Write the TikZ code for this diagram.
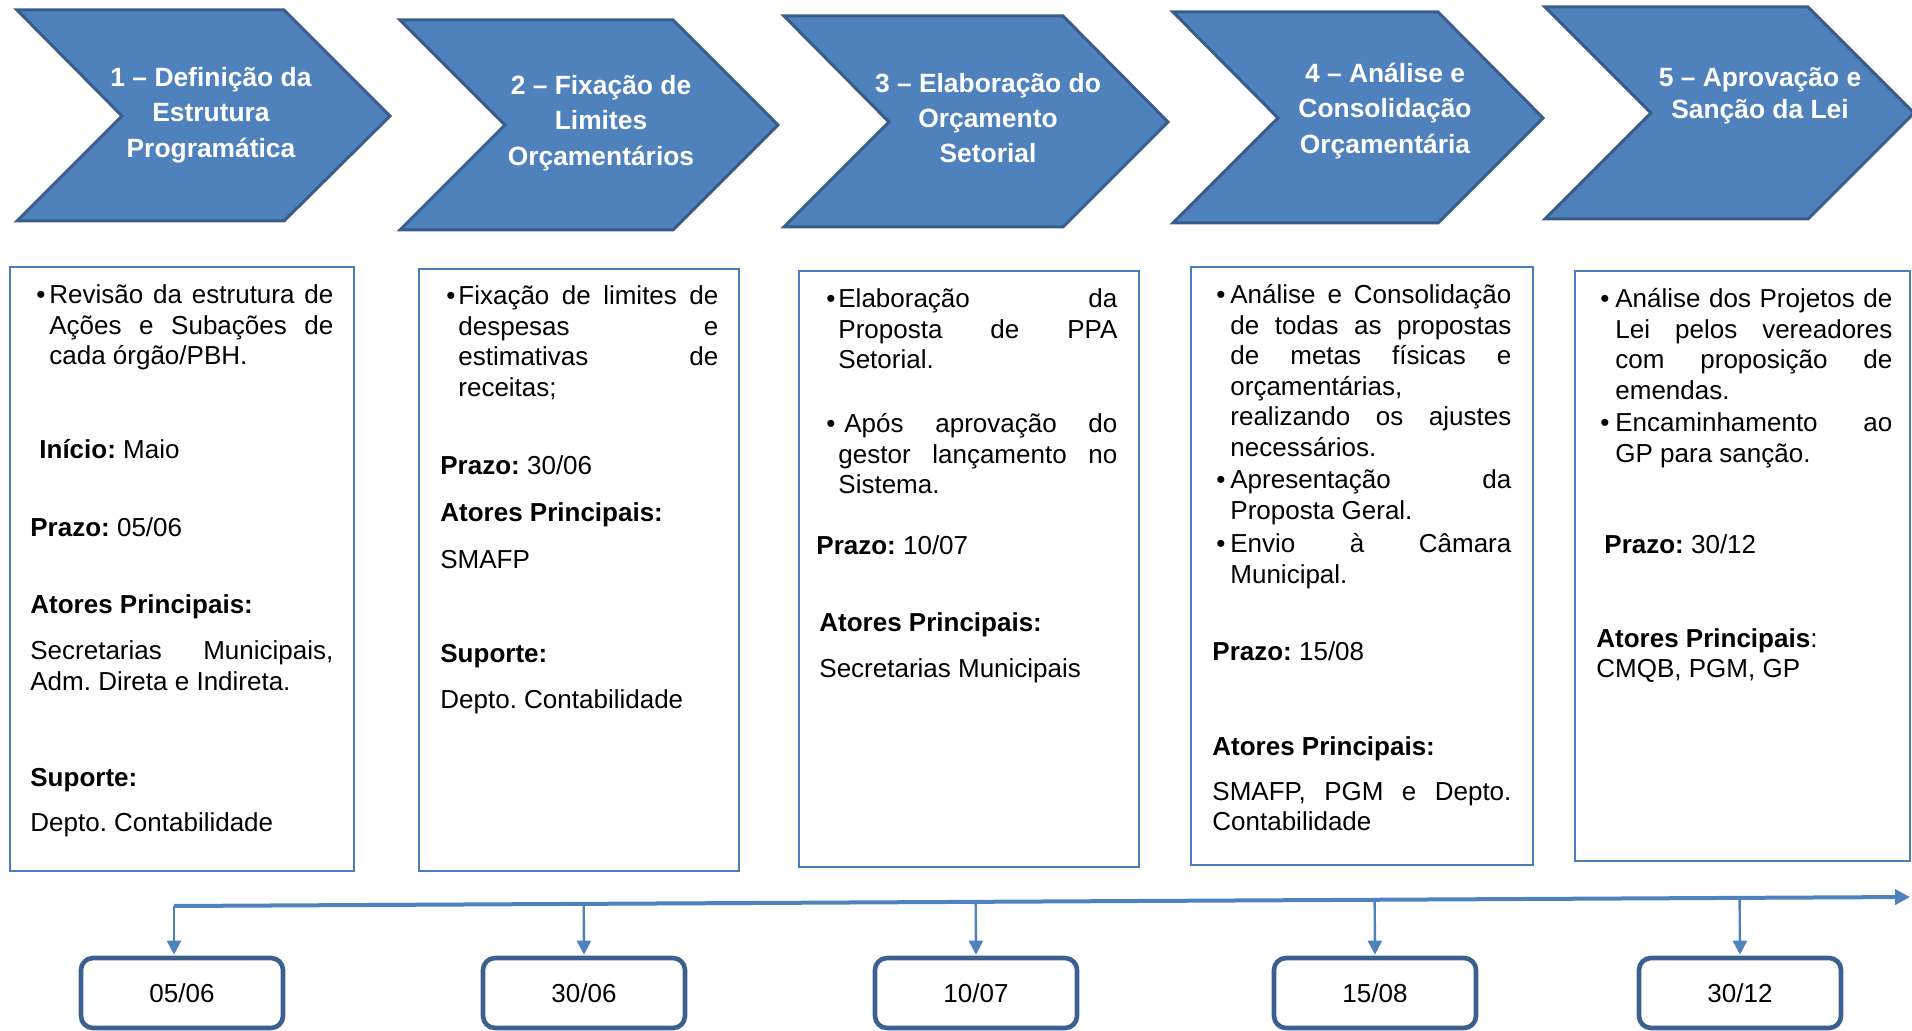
\documentclass[tikz,border=0pt]{standalone}
\usepackage{fontspec}
\setmainfont{Liberation Sans}
\usepackage{tikz}
\usetikzlibrary{arrows.meta, calc}

\definecolor{chevblue}{HTML}{4F81BD}
\definecolor{chevline}{HTML}{385D8A}
\definecolor{framecol}{HTML}{4A7EBB}
\definecolor{dateline}{HTML}{3B5F8E}

\newcommand\bodyfont{\fontsize{13}{15.25}\selectfont}
\newcommand\chevfont{\fontsize{13.2}{17.7}\selectfont\bfseries}
% marcador + texto justificado
\newcommand\bitem[3]{\makebox[#1][l]{\textbullet}\parbox[t]{#2}{#3}}

\frenchspacing
\tolerance=10000
\hbadness=10000
\hyphenpenalty=10000
\exhyphenpenalty=10000

\begin{document}
\begin{tikzpicture}[x=0.5pt, y=-0.5pt,
  chev/.style={draw=chevline, fill=chevblue, line width=1.5pt, line join=miter},
  chevtxt/.style={text=white, font=\chevfont, align=center, inner sep=0pt},
  frame/.style={draw=framecol, line width=1pt},
  txt/.style={anchor=base west, inner sep=0pt, font=\bodyfont, align=justify},
  datebox/.style={draw=dateline, line width=2.3pt, rounded corners=6pt, minimum width=101pt, minimum height=35pt, font=\bodyfont},
  timeline/.style={draw=chevblue, line width=2pt, -{Triangle[length=7.5pt, width=7.5pt]}},
  tick/.style={draw=chevblue, line width=1.2pt, -{Triangle[length=7pt, width=7pt]}, shorten >=0.5pt}]

\useasboundingbox (0,0) rectangle (1912,1031);

% etapas
\draw[chev] (17,10) -- (284,10) -- (390,116) -- (284,221) -- (17,221) -- (122,116) -- cycle;
\draw[chev] (400,20) -- (673,20) -- (778,125) -- (673,230) -- (400,230) -- (505,125) -- cycle;
\draw[chev] (784,16) -- (1063,16) -- (1168,122) -- (1063,227) -- (784,227) -- (889,122) -- cycle;
\draw[chev] (1173,12) -- (1438,12) -- (1543,118) -- (1438,223) -- (1173,223) -- (1278,118) -- cycle;
\draw[chev] (1545,7) -- (1808,7) -- (1914,113) -- (1808,219) -- (1545,219) -- (1651,113) -- cycle;

\node[chevtxt] (e1) at (211,115) {1 -- Definição da\\Estrutura\\Programática};
\node[chevtxt] (e2) at (601,123) {2 -- Fixação de\\Limites\\Orçamentários};
\node[chevtxt] (e3) at (988,118) {3 -- Elaboração do\\Orçamento\\Setorial};
\node[chevtxt] (e4) at (1385,111) {4 -- Análise e\\Consolidação\\Orçamentária};
\node[chevtxt, font=\fontsize{13.2}{16}\selectfont\bfseries] (e5) at (1760,96) {5 -- Aprovação e\\Sanção da Lei};

% quadros
\draw[frame] (10,267) rectangle (354,871);
\draw[frame] (419,269) rectangle (739,871);
\draw[frame] (799,271) rectangle (1139,867);
\draw[frame] (1191,267) rectangle (1533,865);
\draw[frame] (1575,271) rectangle (1910,861);

% quadro 1
\node[txt] (q1a) at (36,304) {\bitem{6.5pt}{142pt}{Revisão da estrutura de\linebreak Ações e Subações de\linebreak cada órgão/PBH.}};
\node[txt] (q1b) at (39,459) {\textbf{Início:} Maio};
\node[txt] (q1c) at (30,537) {\textbf{Prazo:} 05/06};
\node[txt] (q1d) at (30,614) {\textbf{Atores Principais:}};
\node[txt, text width=151.5pt] (q1e) at (30,660) {Secretarias Municipais,\linebreak Adm. Direta e Indireta.};
\node[txt] (q1f) at (30,786) {\textbf{Suporte:}};
\node[txt] (q1g) at (30,831) {Depto. Contabilidade};

% quadro 2
\node[txt] (q2a) at (446,305) {\bitem{6pt}{130pt}{Fixação de limites de\linebreak despesas e\linebreak estimativas de\linebreak receitas;}};
\node[txt] (q2b) at (440,475) {\textbf{Prazo:} 30/06};
\node[txt] (q2c) at (440,522) {\textbf{Atores Principais:}};
\node[txt] (q2d) at (440,569) {SMAFP};
\node[txt] (q2e) at (440,663) {\textbf{Suporte:}};
\node[txt] (q2f) at (440,709) {Depto. Contabilidade};

% quadro 3
\node[txt] (q3a) at (826,308) {\bitem{6pt}{139.5pt}{Elaboração da\linebreak Proposta de PPA\linebreak Setorial.}};
\node[txt] (q3b) at (826,433) {\bitem{6pt}{139.5pt}{\hspace{3pt}Após aprovação do\linebreak gestor lançamento no\linebreak Sistema.}};
\node[txt] (q3c) at (816,555) {\textbf{Prazo:} 10/07};
\node[txt] (q3d) at (819,632) {\textbf{Atores Principais:}};
\node[txt] (q3e) at (819,678) {Secretarias Municipais};

% quadro 4
\node[txt] (q4a) at (1216,304) {\bitem{7pt}{140.5pt}{Análise e Consolidação\linebreak de todas as propostas\linebreak de metas físicas e\linebreak orçamentárias,\linebreak realizando os ajustes\linebreak necessários.}};
\node[txt] (q4b) at (1216,489) {\bitem{7pt}{140.5pt}{Apresentação da\linebreak Proposta Geral.}};
\node[txt] (q4c) at (1216,553) {\bitem{7pt}{140.5pt}{Envio à Câmara\linebreak Municipal.}};
\node[txt] (q4d) at (1212,661) {\textbf{Prazo:} 15/08};
\node[txt] (q4e) at (1212,755) {\textbf{Atores Principais:}};
\node[txt, text width=149.5pt] (q4f) at (1212,800) {SMAFP, PGM e Depto.\linebreak Contabilidade};

% quadro 5
\node[txt] (q5a) at (1600,308) {\bitem{7.5pt}{138.5pt}{Análise dos Projetos de\linebreak Lei pelos vereadores\linebreak com proposição de\linebreak emendas.}};
\node[txt] (q5b) at (1600,432) {\bitem{7.5pt}{138.5pt}{Encaminhamento ao\linebreak GP para sanção.}};
\node[txt] (q5c) at (1604,554) {\textbf{Prazo:} 30/12};
\node[txt] (q5d) at (1596,647) {\textbf{Atores Principais}:};
\node[txt] (q5e) at (1596,677) {CMQB, PGM, GP};

% linha do tempo
\node[datebox] (d1) at (182,993) {05/06};
\node[datebox] (d2) at (584,993) {30/06};
\node[datebox] (d3) at (976,993) {10/07};
\node[datebox] (d4) at (1375,993) {15/08};
\node[datebox] (d5) at (1740,993) {30/12};

\coordinate (tl0) at (174,906);
\coordinate (tl1) at (1910,897);
\draw[timeline] (tl0) -- (tl1);

\draw[tick] (tl0) -- (tl0 |- d1.north);
\draw[tick] ($(tl0)!(d2.north)!(tl1)$) -- (d2.north);
\draw[tick] ($(tl0)!(d3.north)!(tl1)$) -- (d3.north);
\draw[tick] ($(tl0)!(d4.north)!(tl1)$) -- (d4.north);
\draw[tick] ($(tl0)!(d5.north)!(tl1)$) -- (d5.north);

\end{tikzpicture}
\end{document}
